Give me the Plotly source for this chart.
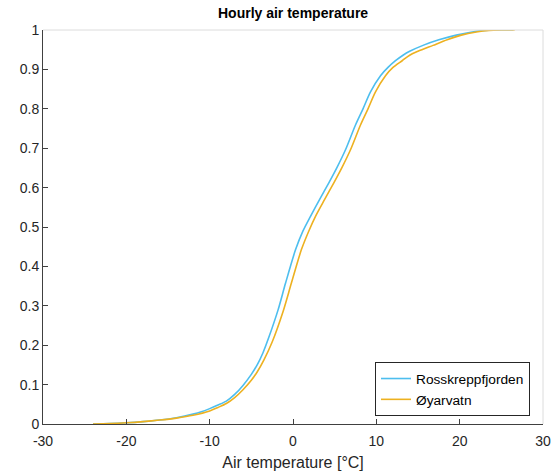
import plotly.graph_objects as go

ross_temp = [-24.0, -22.0, -20.0, -18.0, -16.0, -14.0, -12.0, -11.0, -10.0, -9.0, -8.0, -7.0,
             -6.0, -5.0, -4.3, -3.6, -2.9, -1.8, -0.9, 0.3, 1.2, 2.1, 3.2, 4.3, 5.3, 6.3, 7.5,
             8.4, 9.3, 10.5, 11.4, 12.3, 13.2, 14.0, 15.6, 17.5, 19.6, 21.5, 23.0, 24.5, 26.4]
ross_cdf = [0.0, 0.001, 0.003, 0.006, 0.010, 0.016, 0.025, 0.031, 0.039, 0.048, 0.058, 0.075,
            0.098, 0.126, 0.150, 0.181, 0.220, 0.289, 0.357, 0.442, 0.490, 0.527, 0.570, 0.612, 0.652,
            0.696, 0.759, 0.800, 0.843, 0.884, 0.905, 0.922, 0.936, 0.946, 0.961, 0.975, 0.987, 0.995,
            0.999, 1.0, 1.0]

oyar_temp = [-24.0, -22.0, -20.0, -18.0, -16.0, -14.0, -12.0, -10.0, -9.0, -8.0, -7.0, -6.0,
             -5.0, -4.3, -3.5, -2.5, -1.2, -0.2, 1.0, 1.9, 2.7, 3.8, 4.9, 5.9, 6.9, 8.1, 9.0, 9.9,
             11.1, 12.0, 13.1, 14.0, 15.0, 16.8, 18.5, 20.2, 22.0, 23.5, 25.0, 26.6]
oyar_cdf = [0.0, 0.001, 0.003, 0.006, 0.010, 0.015, 0.022, 0.033, 0.042, 0.052, 0.067, 0.087,
            0.111, 0.132, 0.162, 0.208, 0.285, 0.357, 0.442, 0.490, 0.527, 0.570, 0.612, 0.652,
            0.696, 0.759, 0.800, 0.843, 0.884, 0.905, 0.922, 0.936, 0.946, 0.961, 0.975, 0.987, 0.995,
            0.999, 1.0, 1.0]

x_ticks = [-30, -20, -10, 0, 10, 20, 30]
x_labels = ["-30", "-20", "-10", "0", "10", "20", "30"]
y_ticks = [0, 0.1, 0.2, 0.3, 0.4, 0.5, 0.6, 0.7, 0.8, 0.9, 1]
y_labels = ["0", "0.1", "0.2", "0.3", "0.4", "0.5", "0.6", "0.7", "0.8", "0.9", "1"]

FONT = "Liberation Sans, Arial, sans-serif"
AX = "#404040"

fig = go.Figure()
fig.add_trace(go.Scatter(x=ross_temp, y=ross_cdf, mode="lines", name="Rosskreppfjorden",
                         line=dict(color="#4DBEEE", width=1.6, shape="spline", smoothing=0.8)))
fig.add_trace(go.Scatter(x=oyar_temp, y=oyar_cdf, mode="lines", name="Øyarvatn",
                         line=dict(color="#EDB120", width=1.6, shape="spline", smoothing=0.8)))

fig.update_layout(
    width=554, height=476,
    margin=dict(l=43, r=11, t=30, b=52),
    paper_bgcolor="white", plot_bgcolor="white",
    font=dict(family=FONT, size=14, color="#262626"),
    title=dict(text="<b>Hourly air temperature</b>", x=0.529, xanchor="center",
               y=0.972, yanchor="middle", font=dict(size=14, color="#000000")),
    showlegend=True,
    legend=dict(x=0.974, y=0.02, xanchor="right", yanchor="bottom",
                bgcolor="white", bordercolor="#262626", borderwidth=1,
                font=dict(size=13.7, color="#000000"),
                tracegroupgap=0, itemwidth=30),
)
fig.update_xaxes(range=[-30, 30], tickvals=x_ticks, ticktext=x_labels, ticks="inside", ticklen=5,
                 tickcolor=AX, showline=True, linecolor=AX, linewidth=1,
                 showgrid=False, zeroline=False, ticklabelstandoff=4, automargin=False,
                 title=dict(text="Air temperature [°C]", standoff=9, font=dict(size=16)))
fig.update_yaxes(range=[0, 1], tickvals=y_ticks, ticktext=y_labels, ticks="inside", ticklen=5,
                 tickcolor=AX, showline=True, linecolor=AX, linewidth=1,
                 showgrid=False, zeroline=False, automargin=False)
# light box on top and right
fig.add_shape(type="line", xref="paper", yref="paper", x0=0, x1=1, y0=1, y1=1,
              line=dict(color="#DCDCDC", width=1))
fig.add_shape(type="line", xref="paper", yref="paper", x0=1, x1=1, y0=0, y1=1,
              line=dict(color="#DCDCDC", width=1))

fig.write_html("out.html")
